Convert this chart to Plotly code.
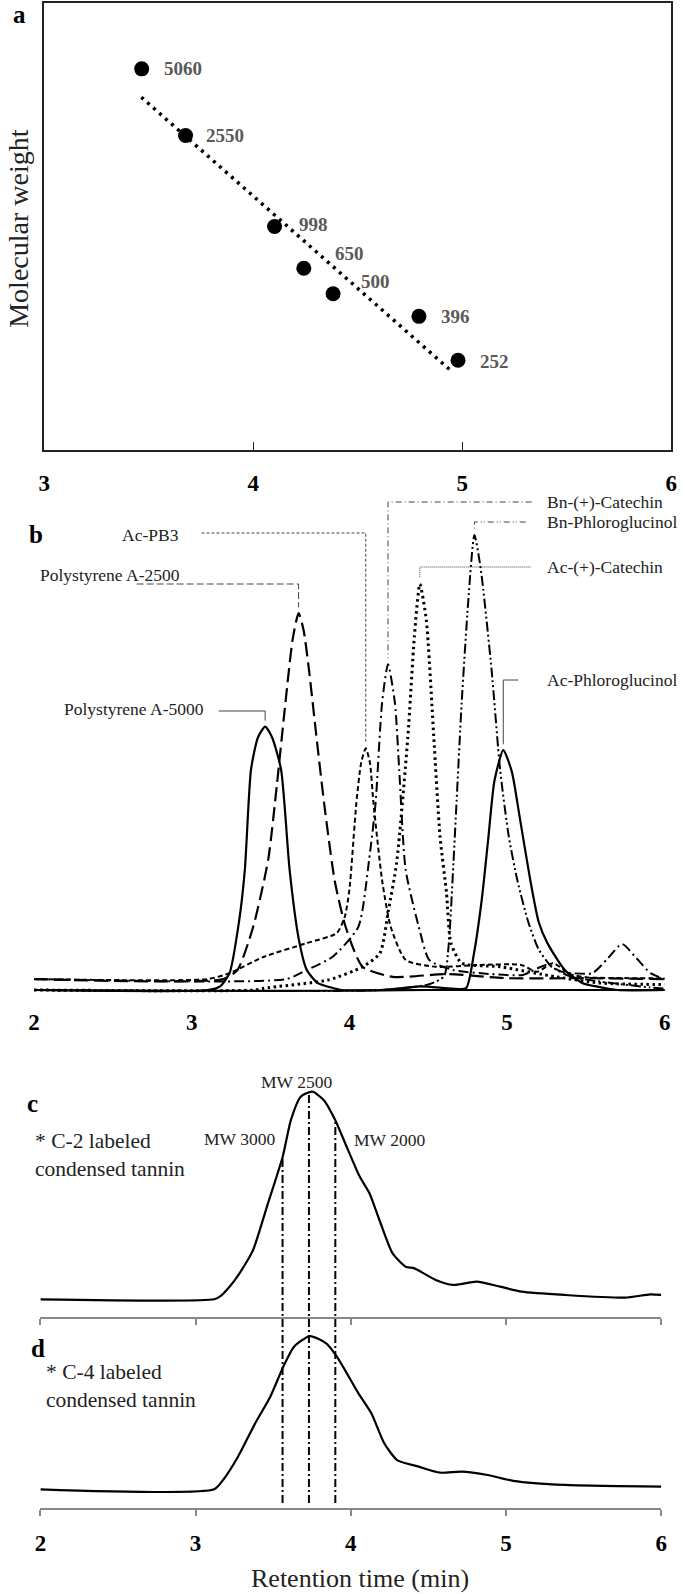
import numpy as np
import plotly.graph_objects as go

W, H = 685, 1594
SERIF = "Liberation Serif"

# ---- panel a : calibration standards
std_rt = [3.466, 3.676, 4.102, 4.242, 4.382, 4.793, 4.980]
std_mw = [5060, 2550, 998, 650, 500, 396, 252]
trend_rt = [3.464, 4.956]
trend_mw = [3780, 222]

# ---- panel b : chromatograms of the standards
ps5000_x = [2.0, 3.1, 3.18, 3.24, 3.3, 3.337, 3.376, 3.42, 3.466, 3.51, 3.567, 3.621, 3.68, 3.73, 3.8, 3.89, 3.95, 4.5, 6.0]
ps5000_y = [0, 0, 0.8, 3.7, 15, 26.4, 48.4, 55.5, 57.9, 55.5, 48.4, 26.4, 11, 4.4, 1.5, 0.5, 0, 0, 0]

ps2500_x = [2.0, 3.2, 3.29, 3.39, 3.485, 3.54, 3.594, 3.64, 3.678, 3.71, 3.744, 3.79, 3.84, 3.907, 3.976, 4.084, 4.275, 4.62, 5.0, 5.5, 6.0]
ps2500_y = [2.4, 2.4, 4.4, 13.9, 28.6, 45, 63, 77, 82.8, 79, 70.3, 56, 41, 24, 13.9, 5.1, 2.9, 3.5, 2.6, 2.6, 2.4]

pb3_x = [2.0, 3.1, 3.24, 3.458, 3.73, 3.92, 3.97, 4.0, 4.044, 4.075, 4.104, 4.13, 4.153, 4.208, 4.262, 4.357, 4.548, 4.82, 5.09, 5.19, 5.29, 5.4, 5.5, 6.0]
pb3_y = [2.4, 2.4, 3.7, 7.3, 10.3, 12.5, 16, 22, 41, 50, 53.1, 50, 41, 24, 13.9, 6.6, 5.1, 5.5, 5.5, 4.0, 5.9, 3.5, 2.8, 2.6]

bn_cat_x = [2.0, 3.6, 3.73, 3.894, 4.057, 4.125, 4.166, 4.207, 4.245, 4.289, 4.316, 4.357, 4.44, 4.507, 4.657, 4.9, 5.1, 5.25, 5.35, 5.54, 5.64, 5.73, 5.82, 5.91, 6.0]
bn_cat_y = [2.4, 2.4, 4.4, 7.3, 13.9, 28.6, 41, 63, 71.6, 63, 48.4, 26.4, 13.9, 6.6, 4.4, 3.5, 3.3, 5.5, 4.0, 3.7, 7, 10.1, 7, 3.7, 2.4]

ac_cat_x = [2.0, 3.4, 3.458, 3.866, 4.084, 4.194, 4.248, 4.30, 4.371, 4.412, 4.447, 4.488, 4.535, 4.575, 4.616, 4.644, 4.712, 4.956, 5.31, 5.6, 6.0]
ac_cat_y = [0, 0, 0.4, 2.2, 5.1, 8.1, 17.6, 28, 55.7, 77.6, 89.2, 81.3, 55.7, 33.7, 21.3, 10.3, 5.9, 5.1, 2.9, 1.5, 1.2]

bn_phl_x = [2.0, 4.2, 4.5, 4.6, 4.63, 4.66, 4.712, 4.753, 4.793, 4.834, 4.902, 4.956, 5.011, 5.066, 5.134, 5.202, 5.284, 5.4, 5.6, 5.9, 6.0]
bn_phl_y = [0, 0, 1.2, 3, 10, 28, 63, 85, 100, 92.3, 70.3, 48.4, 33.7, 24, 15, 8.8, 5.1, 3, 1.8, 0.6, 0.3]

ac_phl_x = [2.0, 4.2, 4.45, 4.65, 4.74, 4.79, 4.84, 4.88, 4.92, 4.976, 5.03, 5.08, 5.148, 5.2, 5.256, 5.366, 5.48, 5.58, 5.7, 6.0]
ac_phl_y = [0, 0, 0.8, 0.3, 0.4, 8, 20, 33, 46, 52.7, 48, 38, 24, 15, 10.3, 4.4, 1.5, 0.7, 0, 0]

# ---- panels c, d : labelled condensed tannins
c2_x = [2.0, 3.12, 3.16, 3.2, 3.25, 3.3, 3.37, 3.466, 3.561, 3.614, 3.677, 3.751, 3.825, 3.899, 3.973, 4.057, 4.12, 4.184, 4.268, 4.353, 4.409, 4.547, 4.658, 4.81, 4.962, 5.101, 5.378, 5.766, 5.93, 6.0]
c2_y = [0, 0, 1.5, 4.5, 9, 14.5, 23.7, 46.2, 68.7, 86.4, 97.6, 100, 96, 86.4, 73.5, 59.1, 51.1, 38.2, 22.2, 15.7, 14.9, 9.3, 6.9, 8.5, 6.1, 3.7, 2.1, 0.8, 2.4, 2.1]

c4_x = [2.0, 3.12, 3.177, 3.273, 3.384, 3.481, 3.565, 3.634, 3.736, 3.841, 3.91, 4.049, 4.132, 4.215, 4.298, 4.437, 4.575, 4.713, 4.88, 5.046, 5.378, 6.0]
c4_y = [0, 0, 4.5, 15.7, 31.8, 44.6, 59.1, 68.7, 73.8, 70.3, 63.9, 46.2, 36.6, 22.2, 14.1, 10.9, 8.0, 8.5, 6.9, 4.1, 2.1, 1.3]

mw_mark_x = [3.56, 3.73, 3.90]
mw_mark_text = ["MW 3000", "MW 2500", "MW 2000"]


def fx(px):
    return px / W


def fy(py):
    return 1 - py / H


# subplot geometry (pixels)
A_X, A_Y = (39, 677), (2.7, 450)
B_X, B_Y = (28.5, 670.5), (494, 994.55)
CD_X = (35, 667)
C_Y, D_Y = (1081.3, 1317.3), (1320, 1508.3)
B_RANGE = [-1, 109]
C_RANGE = [-8.67, 105]
D_RANGE = [-9.15, 81.55]


def b_px_to_y(py):
    return B_RANGE[1] - (py - B_Y[0]) / (B_Y[1] - B_Y[0]) * (B_RANGE[1] - B_RANGE[0])


def b_px_to_x(px):
    return 2 + (px - B_X[0]) / (B_X[1] - B_X[0]) * 4


fig = go.Figure()

# ---- panel a
fig.add_trace(go.Scatter(x=trend_rt, y=trend_mw, mode="lines", xaxis="x", yaxis="y",
                         line=dict(color="black", width=3.5, dash="3px,5px"), hoverinfo="skip"))
fig.add_trace(go.Scatter(x=std_rt, y=std_mw, mode="markers", xaxis="x", yaxis="y",
                         marker=dict(color="black", size=15)))

label_shift = [(20, 0), (18, 0), (22, 2), (29, 15), (26, 12), (20, 0), (20, -1)]
for rt, mw, (dx, dy) in zip(std_rt, std_mw, label_shift):
    fig.add_annotation(x=rt, y=np.log10(mw), xref="x", yref="y", text=str(mw),
                       showarrow=False, xanchor="left", yanchor="middle", xshift=dx, yshift=dy,
                       font=dict(family=SERIF, size=19, color="#595959", weight="bold"))

# ---- panel b
curves_b = [
    ("Polystyrene A-5000", ps5000_x, ps5000_y, "solid", 2.2, "solid"),
    ("Polystyrene A-2500", ps2500_x, ps2500_y, "14px,6px", 2.2, "7px,3px"),
    ("Ac-PB3", pb3_x, pb3_y, "5px,3px", 2.0, "3px,2px"),
    ("Bn-(+)-Catechin", bn_cat_x, bn_cat_y, "10px,4px,2px,4px", 2.0, "6px,3px,1px,3px"),
    ("Ac-(+)-Catechin", ac_cat_x, ac_cat_y, "2.5px,3.5px", 3.0, "1px,1px"),
    ("Bn-Phloroglucinol", bn_phl_x, bn_phl_y, "10px,3px,2px,3px,2px,3px", 2.0, "6px,3px,1px,2px,1px,3px"),
    ("Ac-Phloroglucinol", ac_phl_x, ac_phl_y, "solid", 2.2, "solid"),
]

# label placement: (leader y px, leader end px, text x px, text y px, anchor)
b_labels = {
    "Polystyrene A-5000": (711, 216.5, 204, 709, "right"),
    "Polystyrene A-2500": (584, 133, 179, 575, "right"),
    "Ac-PB3": (533, 199, 178.3, 535, "right"),
    "Bn-(+)-Catechin": (502, 535, 549, 502, "left"),
    "Bn-Phloroglucinol": (522, 529, 549, 522, "left"),
    "Ac-(+)-Catechin": (567, 534, 549, 567, "left"),
    "Ac-Phloroglucinol": (680, 521.5, 549, 680, "left"),
}

for name, xs, ys, dash, width, ldash in curves_b:
    fig.add_trace(go.Scatter(x=xs, y=ys, mode="lines", xaxis="x2", yaxis="y2", name=name,
                             line=dict(color="black", width=width, dash=dash, shape="spline", smoothing=0.6)))
    i = int(np.argmax(ys))
    pk_x, pk_y = xs[i], ys[i]
    line_py, end_px, tx, ty, anchor = b_labels[name]
    ly = b_px_to_y(line_py)
    fig.add_trace(go.Scatter(x=[b_px_to_x(end_px), pk_x, pk_x], y=[ly, ly, pk_y + 1.3],
                             mode="lines", xaxis="x2", yaxis="y2", hoverinfo="skip",
                             line=dict(color="#444", width=1, dash=ldash)))
    fig.add_annotation(x=fx(tx), y=fy(ty), xref="paper", yref="paper", text=name,
                       showarrow=False, xanchor=anchor, yanchor="middle",
                       font=dict(family=SERIF, size=17.5, color="#222"))

# ---- panels c, d
fig.add_trace(go.Scatter(x=c2_x, y=c2_y, mode="lines", xaxis="x3", yaxis="y3",
                         line=dict(color="black", width=2.2, shape="spline", smoothing=0.6)))
fig.add_trace(go.Scatter(x=c4_x, y=c4_y, mode="lines", xaxis="x4", yaxis="y4",
                         line=dict(color="black", width=2.2, shape="spline", smoothing=0.6)))

c_dom = (fy(C_Y[1]), fy(C_Y[0]))
for mx in mw_mark_x:
    top = np.interp(mx, c2_x, c2_y)
    top_paper = c_dom[0] + (top - C_RANGE[0]) / (C_RANGE[1] - C_RANGE[0]) * (c_dom[1] - c_dom[0])
    fig.add_shape(type="line", xref="x3", yref="paper", x0=mx, x1=mx, y0=fy(1503), y1=top_paper,
                  line=dict(color="black", width=2, dash="8px,3px,2px,3px"))

for txt, (px, py) in zip(mw_mark_text, [(238, 1139), (296, 1081.7), (390, 1140)]):
    fig.add_annotation(x=fx(px), y=fy(py), xref="paper", yref="paper", text=txt, showarrow=False,
                       xanchor="center", yanchor="middle", font=dict(family=SERIF, size=17.5, color="#222"))

# panel letters and notes
for letter, px, py in [("a", 14, 15), ("b", 31, 535), ("c", 27, 1103), ("d", 33, 1348)]:
    fig.add_annotation(x=fx(px), y=fy(py), xref="paper", yref="paper", text=letter, showarrow=False,
                       xanchor="center", yanchor="middle",
                       font=dict(family=SERIF, size=25, color="black", weight="bold"))

for txt, px, py in [("* C-2 labeled<br>condensed tannin", 27, 1154.5),
                    ("* C-4 labeled<br>condensed tannin", 39, 1385.5)]:
    fig.add_annotation(x=fx(px), y=fy(py), xref="paper", yref="paper", text=txt, showarrow=False,
                       xanchor="left", yanchor="middle", align="left",
                       font=dict(family=SERIF, size=21.5, color="#222"))

fig.add_annotation(x=fx(12), y=fy(229), xref="paper", yref="paper", text="Molecular weight",
                   showarrow=False, textangle=-90, xanchor="center", yanchor="middle",
                   font=dict(family=SERIF, size=28, color="#222"))
fig.add_annotation(x=fx(360), y=fy(1578), xref="paper", yref="paper", text="Retention time (min)",
                   showarrow=False, xanchor="center", yanchor="middle",
                   font=dict(family=SERIF, size=26, color="#222"))

tick_font = dict(family=SERIF, size=23, color="black", weight="bold")
common = dict(showgrid=False, zeroline=False, fixedrange=True)

fig.update_layout(
    width=W, height=H,
    margin=dict(l=0, r=0, t=0, b=0),
    paper_bgcolor="white", plot_bgcolor="rgba(0,0,0,0)",
    showlegend=False,
    xaxis=dict(domain=[fx(A_X[0]), fx(A_X[1])], range=[3, 6], anchor="y",
               showline=True, mirror=True, linecolor="#222", linewidth=1.5,
               ticks="inside", ticklen=8, tickcolor="#222", tickvals=[3, 4, 5, 6],
               tickfont=tick_font, ticklabelstandoff=12, **common),
    yaxis=dict(domain=[fy(A_Y[1]), fy(A_Y[0])], type="log", range=[2, 4], anchor="x",
               showline=True, mirror=True, linecolor="#222", linewidth=1.5,
               ticks="", showticklabels=False, **common),
    xaxis2=dict(domain=[fx(B_X[0]), fx(B_X[1])], range=[2, 6], anchor="y2",
                showline=False, ticks="", tickvals=[2, 3, 4, 5, 6],
                tickfont=tick_font, ticklabelstandoff=11, **common),
    yaxis2=dict(domain=[fy(B_Y[1]), fy(B_Y[0])], range=B_RANGE, anchor="x2", visible=False, **common),
    xaxis3=dict(domain=[fx(CD_X[0]), fx(CD_X[1])], range=[2, 6], anchor="y3",
                showline=True, linecolor="#888", linewidth=1.5,
                ticks="outside", ticklen=6, tickcolor="#888", tickwidth=1.5,
                tickvals=[2, 3, 4, 5, 6], showticklabels=False, **common),
    yaxis3=dict(domain=[fy(C_Y[1]), fy(C_Y[0])], range=C_RANGE, anchor="x3", visible=False, **common),
    xaxis4=dict(domain=[fx(CD_X[0]), fx(CD_X[1])], range=[2, 6], anchor="y4",
                showline=True, linecolor="#888", linewidth=1.5,
                ticks="outside", ticklen=6, tickcolor="#888", tickwidth=1.5,
                tickvals=[2, 3, 4, 5, 6], tickfont=tick_font, ticklabelstandoff=7, **common),
    yaxis4=dict(domain=[fy(D_Y[1]), fy(D_Y[0])], range=D_RANGE, anchor="x4", visible=False, **common),
)

# the page's default body margin would push the figure past the window
fig.write_html("out.html", config={"displayModeBar": False},
               post_script="document.body.style.margin='0';document.body.style.overflow='hidden';")
